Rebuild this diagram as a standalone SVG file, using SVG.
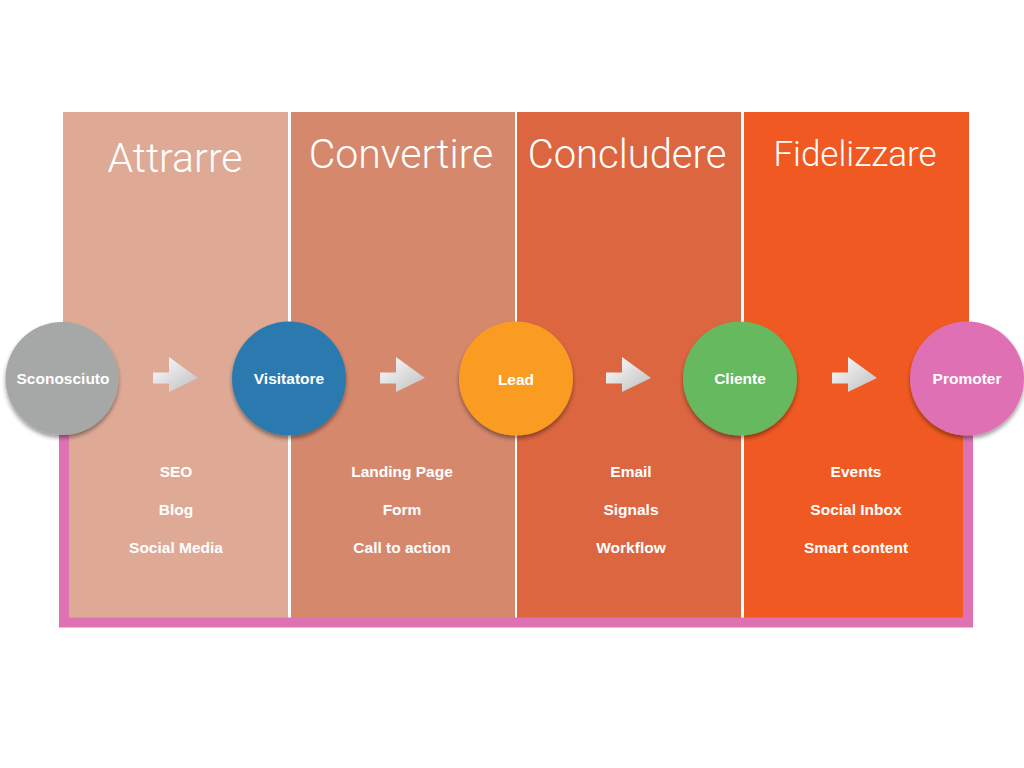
<svg xmlns="http://www.w3.org/2000/svg" width="1024" height="768" viewBox="0 0 1024 768">
<defs>
<linearGradient id="ag" x1="0" y1="0" x2="1" y2="1">
<stop offset="0" stop-color="#ffffff"/>
<stop offset="1" stop-color="#bdbdbd"/>
</linearGradient>
<filter id="sh" x="-20%" y="-20%" width="140%" height="150%">
<feGaussianBlur in="SourceAlpha" stdDeviation="2"/>
<feOffset dx="0" dy="3" result="o"/>
<feComponentTransfer><feFuncA type="linear" slope="0.4"/></feComponentTransfer>
<feMerge><feMergeNode/><feMergeNode in="SourceGraphic"/></feMerge>
</filter>
<path id="arr" d="M0,-5.5 H16 V-21 L45,0 L16,14 V5.5 H0 Z"/>
<style>
.title{font-family:"Roboto","Liberation Sans",sans-serif;font-weight:300;fill:#fff;text-anchor:middle}
.lbl{font-family:"Liberation Sans",Arial,sans-serif;font-weight:bold;font-size:15.5px;fill:#fff;text-anchor:middle}
.node text{font-family:"Liberation Sans",Arial,sans-serif;font-weight:bold;font-size:15.5px;fill:#fff;text-anchor:middle}
.node circle{filter:url(#sh)}
</style>
</defs>
<rect width="1024" height="768" fill="#fff"/>
<g id="panels">
<rect x="63" y="112" width="225" height="506" fill="#DEAA96"/>
<rect x="291" y="112" width="224" height="506" fill="#D6886D"/>
<rect x="517" y="112" width="224" height="506" fill="#DC6640"/>
<rect x="744" y="112" width="225" height="506" fill="#F05A22"/>
<text class="title" x="175" y="172" font-size="41">Attrarre</text>
<text class="title" x="401" y="168" font-size="41">Convertire</text>
<text class="title" x="627" y="168" font-size="40">Concludere</text>
<text class="title" x="855" y="166" font-size="35">Fidelizzare</text>
<text class="lbl" x="176" y="477">SEO</text>
<text class="lbl" x="176" y="515">Blog</text>
<text class="lbl" x="176" y="553">Social Media</text>
<text class="lbl" x="402" y="477">Landing Page</text>
<text class="lbl" x="402" y="515">Form</text>
<text class="lbl" x="402" y="553">Call to action</text>
<text class="lbl" x="631" y="477">Email</text>
<text class="lbl" x="631" y="515">Signals</text>
<text class="lbl" x="631" y="553">Workflow</text>
<text class="lbl" x="856" y="477">Events</text>
<text class="lbl" x="856" y="515">Social Inbox</text>
<text class="lbl" x="856" y="553">Smart content</text>
</g>
<g id="connectors">
<path d="M64,420 V622.5 H968 V420" fill="none" stroke="#DE72B3" stroke-width="10"/>
<use href="#arr" x="153" y="378" fill="url(#ag)"/>
<use href="#arr" x="380" y="378" fill="url(#ag)"/>
<use href="#arr" x="606" y="378" fill="url(#ag)"/>
<use href="#arr" x="832" y="378" fill="url(#ag)"/>
</g>
<g id="n1" class="node"><circle cx="62" cy="378.5" r="56.5" fill="#A6A8A7"/><text x="63" y="384">Sconosciuto</text></g>
<g id="n2" class="node"><circle cx="289" cy="378.5" r="57" fill="#2B7AB0"/><text x="289" y="384">Visitatore</text></g>
<g id="n3" class="node"><circle cx="516" cy="378.5" r="57" fill="#FA9C24"/><text x="516" y="385">Lead</text></g>
<g id="n4" class="node"><circle cx="740" cy="378.5" r="57" fill="#66B95E"/><text x="740" y="384">Cliente</text></g>
<g id="n5" class="node"><circle cx="967" cy="378.5" r="57" fill="#E070B4"/><text x="967" y="384">Promoter</text></g>
</svg>
